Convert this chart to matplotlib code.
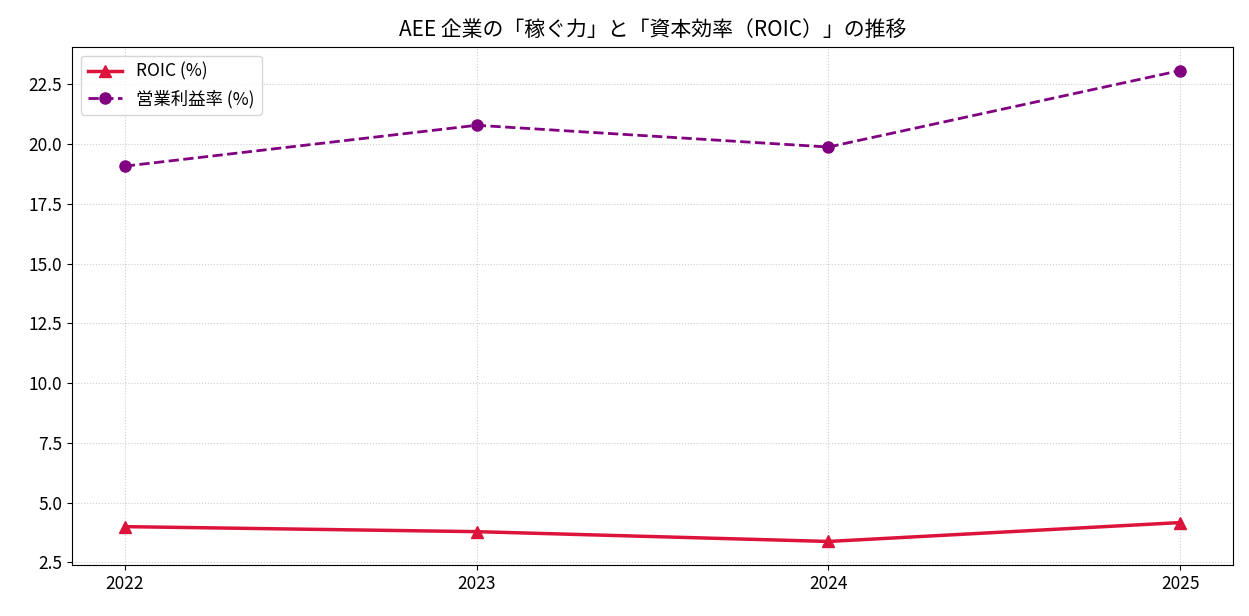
import matplotlib
matplotlib.use("Agg")
import matplotlib.pyplot as plt

plt.rcParams['font.family'] = ['Noto Sans CJK JP', 'DejaVu Sans']

years = [2022, 2023, 2024, 2025]
roic = [4.0, 3.79, 3.38, 4.17]
op_margin = [19.08, 20.79, 19.88, 23.08]
title = "AEE 企業の「稼ぐ力」と「資本効率（ROIC）」の推移"

fig = plt.figure(figsize=(12.49, 6.16), dpi=100)
ax = fig.add_axes([72/1249, 1-565/616, (1233-72)/1249, (565-47)/616])

ax.plot(years, roic, color='crimson', marker='^', linewidth=2.5, markersize=8, label='ROIC (%)')
ax.plot(years, op_margin, color='purple', marker='o', linestyle='--', linewidth=2, markersize=8, label='営業利益率 (%)')

ax.set_xticks(years)
ax.set_xticklabels([str(y) for y in years])
ax.tick_params(labelsize=12.5)
ax.set_title(title, fontsize=15, pad=8)
ax.grid(True, linestyle=':', alpha=0.6)
ax.legend(loc='upper left', fontsize=12.5)

fig.savefig("out.png", dpi=100)
